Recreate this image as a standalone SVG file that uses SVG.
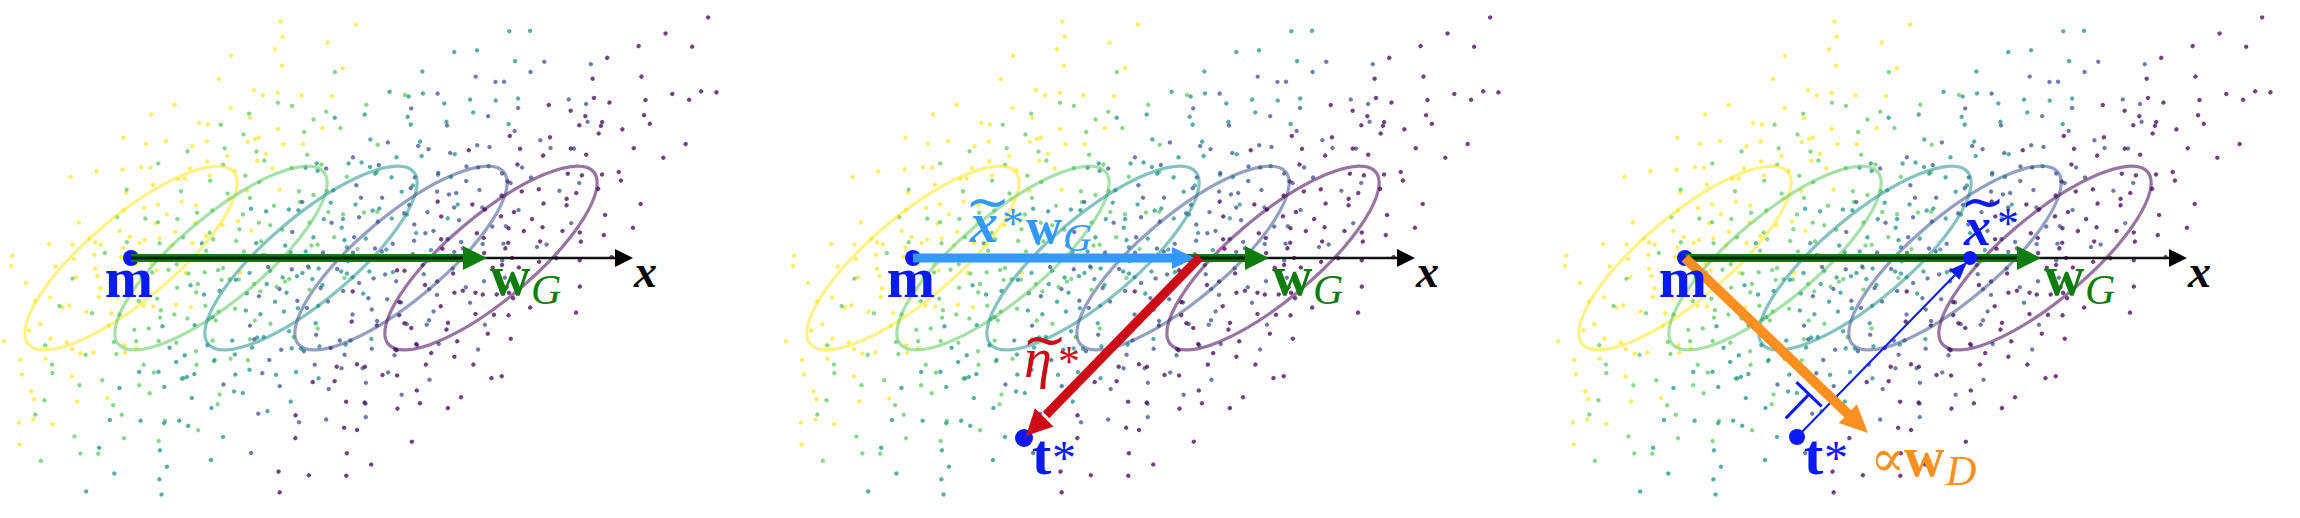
<svg xmlns="http://www.w3.org/2000/svg" xmlns:xlink="http://www.w3.org/1999/xlink" width="2300" height="518" viewBox="0 0 2300 518">
<style>
.t{font-family:"Liberation Serif","DejaVu Serif","Times New Roman",serif}
.b{font-weight:bold}
.i{font-style:italic}
.til{font-family:"DejaVu Sans",sans-serif;font-size:54px;font-style:normal;font-weight:normal}
.ell{fill:none;stroke-width:3.2;stroke-opacity:.55}
.pts{fill:none;stroke-width:4.2;stroke-linecap:round;stroke-opacity:.75}
.ax{stroke:#111;stroke-width:2.5}
.gs{stroke:#107c10;stroke-width:8}
.core{stroke:#000;stroke-width:3;stroke-opacity:.75}
.blue{fill:#0a1af5}
.green{fill:#107c10}
.lb{fill:#3399ff}
.red{fill:#cc0b16}
.or{fill:#fb8f1f}
</style>
<defs>
<clipPath id="pc"><rect x="0" y="0" width="768" height="518"/></clipPath>
<path id="pts" class="pts" vector-effect="non-scaling-stroke" d="M12 -35h.1M-87 64h.1M143 22h.1M-25 -118h.1M56 91h.1M-160 -14h.1M203 -47h.1M-42 7h.1M78 -152h.1M-118 133h.1M31 48h.1M-9 -71h.1M167 109h.1M-201 -63h.1M95 3h.1M-64 -29h.1M4 176h.1M121 -96h.1M-138 41h.1M47 -8h.1M-73 -187h.1M236 58h.1M-17 112h.1M88 -41h.1M-251 22h.1M61 -124h.1M-106 85h.1M19 -5h.1M148 -67h.1M-52 149h.1M112 37h.1M-33 -93h.1M184 -12h.1M-92 -48h.1M7 62h.1M-177 104h.1M69 -199h.1M-14 28h.1M126 141h.1M-129 -107h.1M38 -56h.1M-58 9h.1M213 83h.1M-8 -142h.1M102 -23h.1M-145 -78h.1M83 121h.1M-36 -4h.1M159 -131h.1M-221 46h.1M25 -86h.1M-99 178h.1M137 14h.1M-69 -37h.1M53 204h.1M-187 -19h.1M10 -61h.1M92 72h.1M-116 -161h.1M174 -33h.1M-45 53h.1M66 -108h.1M-154 88h.1M28 17h.1M118 -165h.1M-81 -92h.1M243 -7h.1M-22 95h.1M75 -44h.1M-133 -1h.1M15 -226h.1M-61 137h.1M131 59h.1M-194 -121h.1M41 33h.1M-5 -18h.1M188 117h.1M-102 -57h.1M57 -77h.1M-38 -158h.1M146 26h.1M-164 69h.1M35 -13h.1M-88 24h.1M99 -189h.1M-27 -43h.1M209 -84h.1M-146 127h.1M72 101h.1M-12 -99h.1M114 -55h.1M-236 -34h.1M44 79h.1M-75 -136h.1M162 44h.1M-54 68h.1M2 -29h.1M85 158h.1M-123 -82h.1M229 -118h.1M-31 39h.1M63 -3h.1M-181 -44h.1M107 89h.1M-66 -201h.1M22 114h.1M153 -19h.1M-110 14h.1M49 -151h.1M-19 -66h.1M135 96h.1M-207 81h.1M79 -34h.1M-48 -112h.1M196 31h.1M-89 43h.1M14 -9h.1M125 -79h.1M-157 -153h.1M58 52h.1M-3 147h.1M91 -123h.1M-125 -26h.1M270 12h.1M-79 84h.1M33 -192h.1M-43 -61h.1M172 -56h.1M-170 18h.1M69 27h.1M-11 -84h.1M140 63h.1M-95 -9h.1M26 85h.1M-215 -97h.1M103 -71h.1M-57 124h.1M180 -147h.1M-30 -28h.1M48 -38h.1M-141 58h.1M117 2h.1M-70 -73h.1M8 43h.1M-263 -12h.1M156 77h.1M-102 -166h.1M37 -109h.1M221 -91h.1M-1 19h.1"/>
<g id="scatter" clip-path="url(#pc)">
<use xlink:href="#pts" stroke="#fde725" transform="translate(131 258) rotate(-47) scale(1.2 .44)"/>
<use xlink:href="#pts" stroke="#5ec962" transform="translate(221 258) rotate(-47) scale(1.2 .44) matrix(0 1 1 0 0 0)"/>
<use xlink:href="#pts" stroke="#21918c" transform="translate(311 258) rotate(-47) scale(1.2 .44) scale(-1 -1)"/>
<use xlink:href="#pts" stroke="#3b528b" transform="translate(401 258) rotate(-47) scale(1.2 .44) rotate(90)"/>
<use xlink:href="#pts" stroke="#440154" transform="translate(491 258) rotate(-47) scale(1.2 .44) scale(1 -1)"/>
<ellipse class="ell" stroke="#fde725" rx="134" ry="42" transform="translate(131 258) rotate(-40)"/>
<ellipse class="ell" stroke="#5ec962" rx="134" ry="42" transform="translate(221 258) rotate(-40)"/>
<ellipse class="ell" stroke="#21918c" rx="134" ry="42" transform="translate(311 258) rotate(-40)"/>
<ellipse class="ell" stroke="#3b528b" rx="134" ry="42" transform="translate(401 258) rotate(-40)"/>
<ellipse class="ell" stroke="#440154" rx="134" ry="42" transform="translate(491 258) rotate(-40)"/>
</g>
</defs>

<g id="scatter-panels">
<use xlink:href="#scatter"/>
<use xlink:href="#scatter" x="782"/>
<use xlink:href="#scatter" x="1554"/>
</g>

<g id="points">
<circle class="blue" cx="131" cy="258" r="8"/>
<circle class="blue" cx="913" cy="258" r="8"/>
<circle class="blue" cx="1024" cy="438" r="9"/>
<circle class="blue" cx="1685" cy="258" r="8"/>
<circle class="blue" cx="1797" cy="437" r="8"/>
</g>

<g id="connectors">
<line class="ax" x1="131" y1="258" x2="617" y2="258"/>
<polygon points="633,258 615,249 615,267" fill="#000"/>
<line class="gs" x1="131" y1="258" x2="466" y2="258"/>
<line class="core" x1="131" y1="258" x2="466" y2="258"/>
<polygon class="green" points="487,258 463,246 463,270"/>

<line class="ax" x1="913" y1="258" x2="1399" y2="258"/>
<polygon points="1415,258 1397,249 1397,267" fill="#000"/>
<line class="gs" x1="913" y1="258" x2="1248" y2="258"/>
<line class="core" x1="1190" y1="258" x2="1248" y2="258"/>
<polygon class="green" points="1269,258 1245,246 1245,270"/>
<line x1="913" y1="258" x2="1176" y2="258" stroke="#3399ff" stroke-width="9"/>
<polygon class="lb" points="1195,258 1172,247 1172,269"/>
<line x1="1200" y1="257" x2="1046" y2="415" stroke="#cc0b16" stroke-width="9"/>
<polygon class="red" points="1026,436 1053.5,426.5 1034.9,408.3"/>

<line class="ax" x1="1685" y1="258" x2="2171" y2="258"/>
<polygon points="2187,258 2169,249 2169,267" fill="#000"/>
<line class="gs" x1="1685" y1="258" x2="2020" y2="258"/>
<line class="core" x1="1685" y1="258" x2="2020" y2="258"/>
<polygon class="green" points="2041,258 2017,246 2017,270"/>
<line x1="1797" y1="437" x2="1955" y2="275" stroke="#0a1af5" stroke-width="2"/>
<polygon class="blue" points="1967,262 1959.5,279.8 1949.5,270"/>
<line x1="1685" y1="258" x2="1849" y2="415" stroke="#fb8f1f" stroke-width="10"/>
<polygon class="or" points="1868,433 1838.8,423 1856.8,404.2"/>
</g>

<g id="xstar-point">
<circle class="blue" cx="1970" cy="258" r="7"/>
</g>

<g id="labels-panel1">
<text class="t b blue" x="129" y="297" text-anchor="middle" font-size="58">m</text>
<text class="t green" y="295"><tspan class="b" x="490" font-size="56">w</tspan><tspan class="i" x="531" y="304" font-size="42">G</tspan></text>
<text class="t b i" x="634" y="287" font-size="46">x</text>
</g>

<g id="labels-panel2">
<text class="t b blue" x="911" y="297" text-anchor="middle" font-size="58">m</text>
<text class="t green" y="295"><tspan class="b" x="1272" font-size="56">w</tspan><tspan class="i" x="1313" y="304" font-size="42">G</tspan></text>
<text class="t b i" x="1416" y="287" font-size="46">x</text>
<text class="t lb"><tspan class="til" x="965" y="220">~</tspan><tspan class="b i" x="970" y="242" font-size="56">x</tspan><tspan x="1002" y="238" font-size="44">*</tspan><tspan class="b" x="1026" y="243" font-size="50">w</tspan><tspan class="i" x="1063" y="251" font-size="40">G</tspan></text>
<text class="t red"><tspan class="til" x="1022" y="358">~</tspan><tspan class="i" x="1024" y="377" font-size="56">η</tspan><tspan x="1058" y="376" font-size="44">*</tspan></text>
<text class="t blue" y="474"><tspan class="b" x="1032" font-size="58">t</tspan><tspan x="1052" font-size="48">*</tspan></text>
</g>

<g id="labels-panel3">
<text class="t b blue" x="1683" y="297" text-anchor="middle" font-size="58">m</text>
<text class="t green" y="295"><tspan class="b" x="2044" font-size="56">w</tspan><tspan class="i" x="2085" y="304" font-size="42">G</tspan></text>
<text class="t b i" x="2188" y="287" font-size="46">x</text>
<text class="t blue"><tspan class="til" x="1960" y="220">~</tspan><tspan class="b i" x="1964" y="245" font-size="54">x</tspan><tspan x="1997" y="238" font-size="44">*</tspan></text>
<text class="t blue" y="474"><tspan class="b" x="1804" font-size="58">t</tspan><tspan x="1824" font-size="48">*</tspan></text>
<text x="1810" y="393" transform="rotate(-136 1810 393)" font-family="DejaVu Sans,sans-serif" font-size="50" text-anchor="middle" class="blue">⊥</text>
<text class="t or" y="476"><tspan x="1870" font-size="52">∝</tspan><tspan class="b" x="1904" font-size="56">w</tspan><tspan class="i" x="1946" y="485" font-size="42">D</tspan></text>
</g>
</svg>
